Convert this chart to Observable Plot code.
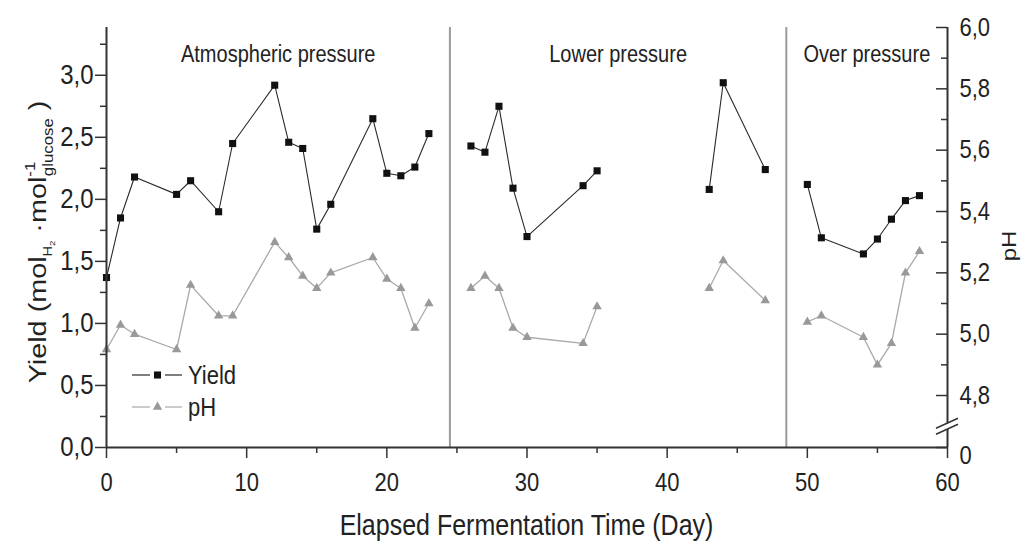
<!DOCTYPE html>
<html>
<head>
<meta charset="utf-8">
<script src="https://cdn.jsdelivr.net/npm/d3@7"></script>
<script src="https://cdn.jsdelivr.net/npm/@observablehq/plot@0.6"></script>
<style>
  html, body { margin: 0; padding: 0; background: #fff; }
  #chart svg { display: block; }
</style>
</head>
<body>
<div id="chart"></div>
<script>
// Sampling days (elapsed fermentation time)
const days = [0, 1, 2, 5, 6, 8, 9, 12, 13, 14, 15, 16, 19, 20, 21, 22, 23,
              26, 27, 28, 29, 30, 34, 35,
              43, 44, 47,
              50, 51, 54, 55, 56, 57, 58];
// H2 yield, mol H2 per mol glucose
const yieldValues = [1.37, 1.85, 2.18, 2.04, 2.15, 1.90, 2.45, 2.92, 2.46, 2.41, 1.76, 1.96, 2.65, 2.21, 2.19, 2.26, 2.53,
                     2.43, 2.38, 2.75, 2.09, 1.70, 2.11, 2.23,
                     2.08, 2.94, 2.24,
                     2.12, 1.69, 1.56, 1.68, 1.84, 1.99, 2.03];
// pH of the broth
const phValues = [4.95, 5.03, 5.00, 4.95, 5.16, 5.06, 5.06, 5.30, 5.25, 5.19, 5.15, 5.20, 5.25, 5.18, 5.15, 5.02, 5.10,
                  5.15, 5.19, 5.15, 5.02, 4.99, 4.97, 5.09,
                  5.15, 5.24, 5.11,
                  5.04, 5.06, 4.99, 4.90, 4.97, 5.20, 5.27];
// continuous runs of measurements (lines are not drawn across gaps)
const runs = [1, 1, 1, 1, 1, 1, 1, 1, 1, 1, 1, 1, 1, 1, 1, 1, 1,
              2, 2, 2, 2, 2, 2, 2,
              3, 3, 3,
              4, 4, 4, 4, 4, 4, 4];

// operating phases and their boundaries (days)
const sectionNames = ["Atmospheric pressure", "Lower pressure", "Over pressure"];
const sectionBounds = [0, 24.5, 48.5, 60];

// axis ticks
const xTicks = [0, 10, 20, 30, 40, 50, 60];
const xMinorTicks = [5, 15, 25, 35, 45, 55];
const yieldTicks = [0, 0.5, 1.0, 1.5, 2.0, 2.5, 3.0];
const yieldMinorTicks = [0.25, 0.75, 1.25, 1.75, 2.25, 2.75, 3.25];
const phTicks = [4.8, 5.0, 5.2, 5.4, 5.6, 5.8, 6.0];
const phMinorTicks = [4.9, 5.1, 5.3, 5.5, 5.7, 5.9];

// secondary (pH) axis expressed in yield units; the span below 4.8 is a broken segment
const Y_TOP = 3.385;
const PH_LOW_Y = 0.419;
const PH_RANGE = [4.8, 6.0];
const ph2y = ph => PH_LOW_Y + (ph - PH_RANGE[0]) * (Y_TOP - PH_LOW_Y) / (PH_RANGE[1] - PH_RANGE[0]);
const y2ph = v => PH_RANGE[0] + (v - PH_LOW_Y) * (PH_RANGE[1] - PH_RANGE[0]) / (Y_TOP - PH_LOW_Y);
const comma = v => d3.format(".1f")(v).replace(".", ",");

const data = days.map((d, i) => ({day: d, yield: yieldValues[i], ph: phValues[i], run: runs[i]}));

const FONT = "'Liberation Sans', Arial, Helvetica, sans-serif";
const INK = "#222";
const AXIS = "#333";
const SY = 1.15; // vertical stretch of the lettering

const chart = Plot.plot({
  width: 1029,
  height: 545,
  marginLeft: 106,
  marginRight: 82,
  marginTop: 27,
  marginBottom: 98,
  style: {fontFamily: FONT, color: INK, background: "#fff", overflow: "visible"},
  x: {domain: [0, 60]},
  y: {domain: [0, Y_TOP]},
  marks: [
    // phase separators
    Plot.ruleX(sectionBounds.slice(1, -1), {stroke: "#9a9a9a", strokeWidth: 2}),
    Plot.text(sectionNames, {
      x: (d, i) => (sectionBounds[i] + sectionBounds[i + 1]) / 2,
      text: d => d, frameAnchor: "top", dy: 18, fontSize: 20, fill: INK
    }),

    // pH series
    Plot.line(data, {x: "day", y: d => ph2y(d.ph), z: "run", stroke: "#a9a9a9", strokeWidth: 1.3}),
    Plot.dot(data, {x: "day", y: d => ph2y(d.ph), symbol: "triangle", r: 3.5, fill: "#999", stroke: "none"}),

    // yield series
    Plot.line(data, {x: "day", y: "yield", z: "run", stroke: "#2a2a2a", strokeWidth: 1.1}),
    Plot.dot(data, {x: "day", y: "yield", symbol: "square", r: 4, fill: "#111", stroke: "none"}),

    // bottom axis
    Plot.axisX({ticks: xTicks, tickSize: 11, tickPadding: 15, fontSize: 22, label: null,
                stroke: AXIS, strokeWidth: 1.5, fill: INK, tickFormat: d => String(d)}),
    Plot.axisX({ticks: xMinorTicks, tickSize: 6, fill: null, label: null, stroke: AXIS, strokeWidth: 1.5}),

    // left axis (yield)
    Plot.axisY({anchor: "left", ticks: yieldTicks, tickSize: 11, tickPadding: 2, fontSize: 24,
                tickFormat: comma, label: null, stroke: AXIS, strokeWidth: 1.5, fill: INK}),
    Plot.axisY({anchor: "left", ticks: yieldMinorTicks, tickSize: 6, fill: null, label: null,
                stroke: AXIS, strokeWidth: 1.5}),

    // right axis (pH) — ticks point inward, labels outside
    Plot.axisY({anchor: "left", frameAnchor: "right", ticks: [0, ...phTicks.map(ph2y)], tickSize: 11,
                fill: null, label: null, stroke: AXIS, strokeWidth: 1.5}),
    Plot.axisY({anchor: "left", frameAnchor: "right", ticks: phMinorTicks.map(ph2y), tickSize: 6,
                fill: null, label: null, stroke: AXIS, strokeWidth: 1.5}),
    Plot.axisY({anchor: "right", ticks: phTicks.map(ph2y), tickSize: 0, tickPadding: 12,
                fontSize: 22, label: null, fill: INK,
                tickFormat: v => comma(y2ph(v))}),
    Plot.axisY({anchor: "right", ticks: [0], tickSize: 0, tickPadding: 12, dy: 8,
                fontSize: 22, label: null, fill: INK, tickFormat: () => "0"}),

    // axis lines
    Plot.ruleX([0], {stroke: AXIS, strokeWidth: 2}),
    Plot.ruleX([60], {stroke: AXIS, strokeWidth: 2}),
    Plot.ruleY([0], {stroke: AXIS, strokeWidth: 2})
  ]
});

document.getElementById("chart").appendChild(chart);

const svg = d3.select(chart);
const xs = chart.scale("x");
const ys = chart.scale("y");

// legend
const legend = svg.append("g").attr("font-family", FONT).attr("font-size", 22)
  .attr("fill", INK).attr("text-anchor", "start");
const legendRows = [
  {label: "Yield", symbol: d3.symbolSquare, size: Math.PI * 16, fill: "#111", stroke: "#2a2a2a", y: 375},
  {label: "pH", symbol: d3.symbolTriangle, size: Math.PI * 3.5 * 3.5, fill: "#999", stroke: "#a9a9a9", y: 407}
];
for (const row of legendRows) {
  legend.append("line").attr("x1", 132).attr("x2", 150).attr("y1", row.y).attr("y2", row.y)
    .attr("stroke", row.stroke).attr("stroke-width", 1.2);
  legend.append("line").attr("x1", 165).attr("x2", 182).attr("y1", row.y).attr("y2", row.y)
    .attr("stroke", row.stroke).attr("stroke-width", 1.2);
  legend.append("path").attr("d", d3.symbol(row.symbol, row.size)())
    .attr("transform", `translate(157.5,${row.y})`).attr("fill", row.fill);
  legend.append("text").attr("transform", `translate(188,${row.y})`).attr("dy", "0.36em").text(row.label);
}

// x-axis title
svg.append("text")
  .attr("transform", `translate(${(xs.range[0] + xs.range[1]) / 2},535)`)
  .attr("text-anchor", "middle").attr("font-family", FONT).attr("font-size", 25).attr("fill", INK)
  .text("Elapsed Fermentation Time (Day)");

// stretch horizontal lettering vertically
svg.selectAll("text").each(function () {
  const t = this.getAttribute("transform") || "";
  this.setAttribute("transform", `${t} scale(1,${SY})`);
});

// broken segment marker on the pH axis
const xr = xs.apply(60);
const yb = ys.apply(0) - (ys.apply(0) - ys.apply(PH_LOW_Y)) * 0.4;
svg.append("path")
  .attr("d", `M${xr - 11},${yb + 8} L${xr + 11},${yb - 2} L${xr + 11},${yb - 8} L${xr - 11},${yb + 2} Z`)
  .attr("fill", "#fff");
svg.append("path")
  .attr("d", `M${xr - 11},${yb + 8} L${xr + 11},${yb - 2} M${xr - 11},${yb + 2} L${xr + 11},${yb - 8}`)
  .attr("stroke", AXIS).attr("stroke-width", 1.5).attr("fill", "none");

// left title with sub/superscripts
const yt = svg.append("text")
  .attr("transform", `translate(46,${(ys.range[0] + ys.range[1]) / 2 + 5}) rotate(-90) scale(1.2,1)`)
  .attr("text-anchor", "middle").attr("font-family", FONT).attr("font-size", 24).attr("fill", INK);
yt.append("tspan").text("Yield (mol");
yt.append("tspan").attr("font-size", 12).attr("dy", 6).text("H");
yt.append("tspan").attr("font-size", 8).attr("dy", 3).text("2");
yt.append("tspan").attr("dy", -9).text(" ·mol");
yt.append("tspan").attr("font-size", 14).attr("dy", -11).text("-1");
yt.append("tspan").attr("font-size", 14).attr("dx", -12).attr("dy", 18).text("glucose");
yt.append("tspan").attr("dy", -7).text(" )");

// right title
svg.append("text")
  .attr("transform", `translate(1016,246) rotate(-90) scale(1.2,1)`)
  .attr("text-anchor", "middle").attr("font-family", FONT).attr("font-size", 20).attr("fill", INK)
  .text("pH");
</script>
</body>
</html>
